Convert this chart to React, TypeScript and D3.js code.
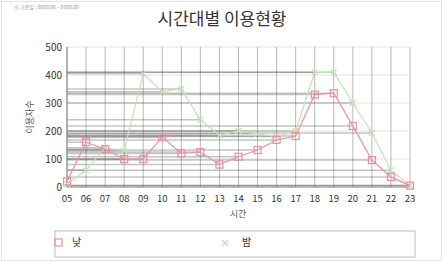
import * as d3 from "d3";

const hours = ["05", "06", "07", "08", "09", "10", "11", "12", "13", "14", "15", "16", "17", "18", "19", "20", "21", "22", "23"];
const dayValues = [20, 160, 135, 100, 100, 178, 120, 125, 80, 108, 132, 168, 182, 330, 335, 218, 96, 36, 5];
const nightValues = [10, 60, 140, 130, 405, 340, 350, 240, 185, 200, 190, 180, 200, 410, 410, 300, 193, 60, 5];
const yTicks = [0, 100, 200, 300, 400, 500];
const seriesNames = ["낮", "밤"];

const W = 443;
const H = 262;
const margin = { top: 47, right: 33, bottom: 75, left: 67 };

export default function App() {
  const x = d3.scalePoint<string>().domain(hours).range([margin.left, W - margin.right]);
  const y = d3.scaleLinear().domain([0, 500]).range([H - margin.bottom, margin.top]);
  const line = d3.line<number>().x((d, i) => x(hours[i])!).y(d => y(d));
  const dayColor = "#ec8fa0";
  const nightColor = "#c2e2b8";

  return (
    <svg width={W} height={H} style={{ position: "absolute", left: 0, top: 0, background: "#fff", fontFamily: "'Noto Sans CJK KR', sans-serif" }}>
      <rect x={1.5} y={1.5} width={W - 3} height={H - 3} fill="none" stroke="#e4e4e4" />
      <text x={14} y={9} fontSize={5} fill="#9a9aa8">※ 기준일 : 0000.00 ~ 0000.00</text>
      <text x={222} y={25} textAnchor="middle" fontSize={17} fill="#333">시간대별 이용현황</text>

      {/* grid */}
      {yTicks.map(t => (
        <line key={"g" + t} x1={margin.left} x2={W - margin.right} y1={y(t)} y2={y(t)} stroke="#e3e3e3" />
      ))}
      {hours.map(h => (
        <line key={"v" + h} x1={x(h)} x2={x(h)} y1={y(500)} y2={y(0)} stroke="#888" strokeOpacity={0.6} />
      ))}

      {/* projection lines to the y axis */}
      {[...dayValues, ...nightValues].map((v, i) => (
        <line key={"p" + i} x1={margin.left} x2={x(hours[i % hours.length])} y1={y(v)} y2={y(v)} stroke="#555" strokeOpacity={0.35} strokeWidth={1.5} />
      ))}

      {/* axes */}
      <line x1={margin.left} x2={margin.left} y1={y(500)} y2={y(0)} stroke="#888" />
      <line x1={margin.left} x2={W - margin.right} y1={y(0)} y2={y(0)} stroke="#888" />
      {yTicks.map(t => (
        <text key={"yt" + t} x={margin.left - 5} y={y(t) + 4} textAnchor="end" fontSize={10} fill="#333">{t}</text>
      ))}
      {hours.map(h => (
        <text key={"xt" + h} x={x(h)} y={y(0) + 15} textAnchor="middle" fontSize={9.5} fill="#333">{h}</text>
      ))}
      <text x={238} y={217} textAnchor="middle" fontSize={9} fill="#555">시간</text>
      <text transform={`translate(33,${y(250)}) rotate(-90)`} textAnchor="middle" fontSize={9} fill="#555">이용자수</text>

      {/* series */}
      <path d={line(nightValues)!} fill="none" stroke={nightColor} strokeWidth={1.2} />
      {nightValues.map((v, i) => (
        <g key={"n" + i} transform={`translate(${x(hours[i])},${y(v)})`} stroke={nightColor} strokeWidth={1.2}>
          <line x1={-3} y1={-3} x2={3} y2={3} />
          <line x1={-3} y1={3} x2={3} y2={-3} />
        </g>
      ))}
      <path d={line(dayValues)!} fill="none" stroke={dayColor} strokeWidth={1.2} />
      {dayValues.map((v, i) => (
        <rect key={"d" + i} x={x(hours[i])! - 3.5} y={y(v) - 3.5} width={7} height={7} fill="none" stroke={dayColor} strokeWidth={1.2} />
      ))}

      {/* legend */}
      <rect x={55} y={231} width={360} height={26} fill="#fff" stroke="#bbb" />
      <rect x={51} y={239} width={7} height={7} transform="translate(4,0)" fill="none" stroke={dayColor} strokeWidth={1.2} />
      <text x={72} y={246} fontSize={10} fill="#333">{seriesNames[0]}</text>
      <g transform="translate(225,243)" stroke={nightColor} strokeWidth={1.2}>
        <line x1={-3} y1={-3} x2={3} y2={3} />
        <line x1={-3} y1={3} x2={3} y2={-3} />
      </g>
      <text x={242} y={246} fontSize={10} fill="#333">{seriesNames[1]}</text>
    </svg>
  );
}
